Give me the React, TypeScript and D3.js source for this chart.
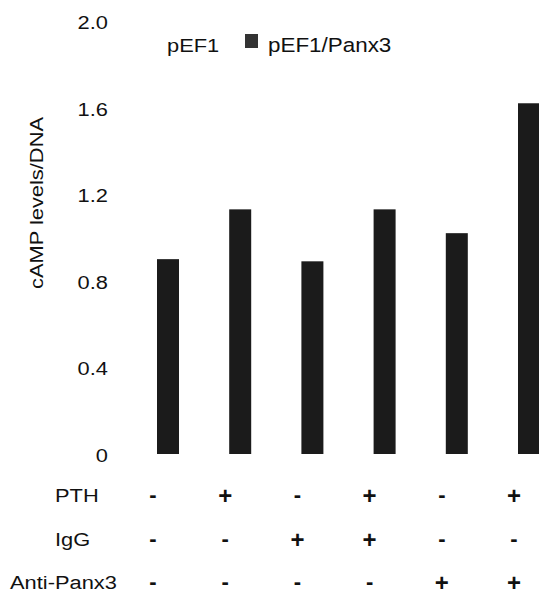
import React from "react"
import * as d3 from "d3"

// cAMP levels per group (pEF1/Panx3 bars)
const groups = ["g1", "g2", "g3", "g4", "g5", "g6"]
const camp = [0.9, 1.13, 0.89, 1.13, 1.02, 1.62]
const yTicks = [0, 0.4, 0.8, 1.2, 1.6, 2.0]

// treatment table below the bars
const rowLabels = ["PTH", "IgG", "Anti-Panx3"]
const pth = ["-", "+", "-", "+", "-", "+"]
const igg = ["-", "-", "+", "+", "-", "-"]
const antiPanx3 = ["-", "-", "-", "-", "+", "+"]
const rows = [pth, igg, antiPanx3]

const W = 539
const H = 598
const font = "'Liberation Sans', Arial, Helvetica, sans-serif"
const barColor = "#1b1b1b"
const stretch = 1.15 // the scanned lettering is a bit wider than Arial

// text drawn with a horizontal stretch around its anchor point
const Wide = ({ x, y, anchor = "start", size = 19, rotate = 0, children }: any) => (
    <g transform={`translate(${x}, ${y}) rotate(${rotate}) scale(${stretch}, 1)`}>
        <text textAnchor={anchor} dominantBaseline="middle" fontSize={size} fill="#111">
            {children}
        </text>
    </g>
)

export default function App() {
    const y = d3.scaleLinear().domain([0, 2]).range([454, 21])
    const x = d3.scalePoint<string>().domain(groups).range([168, 529])
    const barW = 22
    const rowY = [497, 541, 584]
    const rowLabelX = [55, 55, 10]

    return (
        <svg width={W} height={H} style={{ position: "absolute", left: 0, top: 0, background: "#fff" }} fontFamily={font}>
            {/* y tick labels */}
            {yTicks.map((t) => (
                <Wide key={t} x={108} y={y(t) + 3} anchor="end">
                    {t === 0 ? "0" : d3.format(".1f")(t)}
                </Wide>
            ))}

            {/* y axis title */}
            <Wide x={38} y={203} anchor="middle" rotate={-90}>
                cAMP levels/DNA
            </Wide>

            {/* legend */}
            <Wide x={167} y={47} size={19}>pEF1</Wide>
            <rect x={245} y={34} width={13} height={14} fill="#333" />
            <Wide x={268} y={47} size={19.5}>pEF1/Panx3</Wide>

            {/* bars */}
            {groups.map((g, i) => (
                <rect
                    key={g}
                    x={(x(g) ?? 0) - barW / 2}
                    y={y(camp[i])}
                    width={barW}
                    height={y(0) - y(camp[i])}
                    fill={barColor}
                />
            ))}

            {/* treatment table */}
            {rowLabels.map((lab, r) => (
                <g key={lab}>
                    <Wide x={rowLabelX[r]} y={rowY[r]}>
                        {lab}
                    </Wide>
                    {rows[r].map((s, i) => (
                        <text
                            key={i}
                            x={(x(groups[i]) ?? 0) - 15}
                            y={rowY[r] + (s === "+" ? 1 : -1)}
                            textAnchor="middle"
                            dominantBaseline="middle"
                            fontSize={s === "+" ? 24 : 22}
                            fontWeight="bold"
                            fill="#111"
                        >
                            {s}
                        </text>
                    ))}
                </g>
            ))}
        </svg>
    )
}
